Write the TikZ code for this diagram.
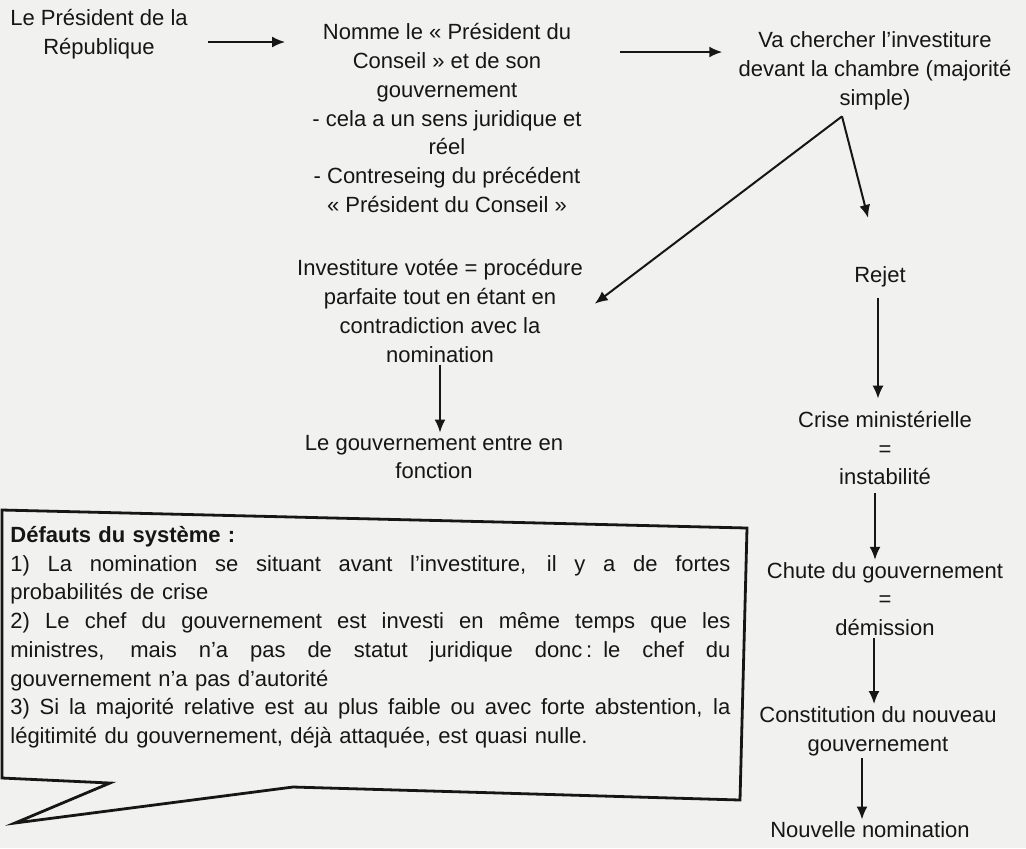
\documentclass[tikz,border=0pt]{standalone}
\usepackage{fontspec}
\setmainfont{Liberation Sans}
\usetikzlibrary{arrows.meta, calc}
\definecolor{paper}{RGB}{241,241,239}
\definecolor{ink}{RGB}{22,22,22}
\newcommand{\fillline}[1]{\makebox[360pt][s]{\spaceskip=0.28em plus 1fill\relax #1}}

\begin{document}
\begin{tikzpicture}[x=0.5pt, y=-0.5pt,
    txt/.style={align=center, inner sep=1pt, text=ink, font=\fontsize{11}{14.35}\selectfont},
    arr/.style={-{Latex[length=6.5pt,width=5.5pt]}, line width=1pt, draw=ink},
    bubble/.style={line width=1.4pt, draw=ink, line join=miter}]
            \fill[paper] (0,0) rectangle (1026,848);
            \useasboundingbox (0,0) rectangle (1026,848);

            \node[txt] (pres) at (99,34) {Le Président de la\\République};
            \node[txt] (nomme) at (447,118) {Nomme le « Président du\\Conseil » et de son\\gouvernement\\- cela a un sens juridique et\\réel\\- Contreseing du précédent\\« Président du Conseil »};
            \node[txt] (chercher) at (875,71) {Va chercher l’investiture\\devant la chambre (majorité\\simple)};

            \node[txt] (invest) at (440,311) {Investiture votée = procédure\\parfaite tout en étant en\\contradiction avec la\\nomination};
            \node[txt] (gouv) at (434,457) {Le gouvernement entre en\\fonction};

            \node[txt] (rejet) at (880,277) {Rejet};
            \node[txt] (crise) at (885,448) {Crise ministérielle\\=\\instabilité};
            \node[txt] (chute) at (885,599) {Chute du gouvernement\\=\\démission};
            \node[txt] (constit) at (878,731) {Constitution du nouveau\\gouvernement};
            \node[txt] (nouvelle) at (870,830) {Nouvelle nomination};

            \draw[arr] ($(pres.east)+(18,8)$) to ($(pres.east -| nomme.west)+(-25,8)$);
            \draw[arr] ($(nomme.east |- chercher.west)+(36,-19)$) to ($(chercher.west)+(-14,-19)$);
            \coordinate (fork) at ($(chercher.south)+(-33,4)$);
            \draw[arr, shorten >=24pt] (fork) to (rejet.north);
            \draw[arr, shorten >=6pt] (fork) to (invest.east);
            \draw[arr] (invest.south) to (invest.south |- gouv.north);

            \draw[arr] ($(rejet.south)+(-2,8)$) to ($(rejet.south |- crise.north)+(-2,-10)$);
            \draw[arr] ($(crise.south)+(-10,6)$) to ($(crise.south |- chute.north)+(-10,0)$);
            \draw[arr] ($(chute.south)+(-11,0)$) to ($(chute.south |- constit.north)+(-11,0)$);
            \draw[arr] ($(constit.south)+(-16,0)$) to ($(constit.south |- nouvelle.north)+(-16,0)$);

            \draw[bubble] (2,510) -- (747,528) -- (740,800) -- (293,787) -- (15,823) -- (110,783) -- (2,778) -- cycle;
                \node[txt, align=left, anchor=north west, text width=360pt] (defauts) at (8,524) {\textbf{Défauts du système :}\\
                \fillline{1) La nomination se situant avant l’investiture, il y a de fortes}\\
                probabilités de crise\\
                \fillline{2) Le chef du gouvernement est investi en même temps que les}\\
                \fillline{ministres, mais n’a pas de statut juridique donc\,: le chef du}\\
                gouvernement n’a pas d’autorité\\
                \fillline{3) Si la majorité relative est au plus faible ou avec forte abstention, la}\\
                légitimité du gouvernement, déjà attaquée, est quasi nulle.};
      \end{tikzpicture}
\end{document}
